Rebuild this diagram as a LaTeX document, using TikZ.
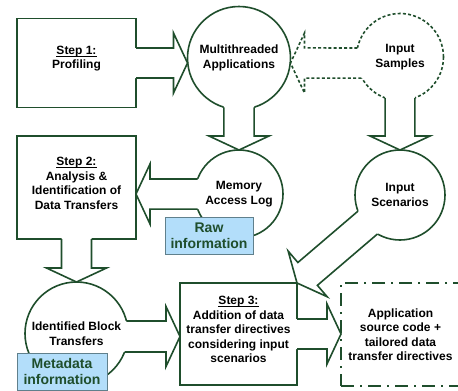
\documentclass[tikz,border=0pt]{standalone}
\usepackage{fontspec}
\setmainfont{Liberation Sans}
\usetikzlibrary{calc}

\definecolor{flowgreen}{RGB}{31,78,44}
\definecolor{infoblue}{RGB}{179,222,250}
\definecolor{infoedge}{RGB}{96,128,140}

% block arrow: rear corners #2 and #3, tip #4
\newcommand{\blockarrow}[4][]{%
  \coordinate (ba-m) at ($(#2)!0.5!(#3)$);
  \coordinate (ba-b) at ($(#4)!14pt!(ba-m)$);
  \coordinate (ba-x) at ($(ba-b)!1pt!90:(#4)$);
  \coordinate (ba-l) at ($(ba-b)!(#2)!(ba-x)$);
  \coordinate (ba-r) at ($(ba-b)!(#3)!(ba-x)$);
  \coordinate (ba-hl) at ($(ba-b)!30pt!(ba-l)$);
  \coordinate (ba-hr) at ($(ba-b)!30pt!(ba-r)$);
  \fill[white] ($(#2)!-3pt!(ba-l)$) -- (ba-l) -- (ba-hl) -- (#4) -- (ba-hr) -- (ba-r) -- ($(#3)!-3pt!(ba-r)$) -- cycle;
  \draw[blockline,#1] (#2) -- (ba-l) -- (ba-hl) -- (#4) -- (ba-hr) -- (ba-r) -- (#3);
}
\newcommand{\stepul}[1]{\underline{\smash{#1}}}

\begin{document}
\begin{tikzpicture}[x=1pt,y=-1pt,
  every node/.style={inner sep=0pt, outer sep=0pt, align=center, font=\fontsize{12}{14.5}\selectfont\bfseries},
  stepbox/.style={rectangle, draw=flowgreen, line width=1.6pt, fill=white},
  datacircle/.style={circle, draw=flowgreen, line width=1.6pt, fill=white},
  infobox/.style={rectangle, draw=infoedge, line width=0.8pt, fill=infoblue, text=flowgreen, font=\fontsize{14}{16.5}\selectfont\bfseries, minimum height=37pt},
  blockline/.style={draw=flowgreen, line width=1.6pt},
  ]
  \useasboundingbox (0,0) rectangle (458,391);

  % shapes
  \node[stepbox, minimum width=119pt, minimum height=89pt] (step1) at (76.5,63) {\stepul{Step 1:}\\Profiling};
  \node[datacircle, minimum size=103pt] (multi) at (239,58) {Multithreaded\\Applications};
  \node[datacircle, dash pattern=on 3pt off 2.2pt, minimum size=87pt] (samples) at (400,57) {Input\\Samples};
  \node[stepbox, minimum width=119pt, minimum height=103pt] (step2) at (76.5,187.5) {\stepul{Step 2:}\\Analysis \&\\Identification of\\Data Transfers};
  \node[datacircle, minimum size=88pt] (memory) at (239,194) {Memory\\Access Log};
  \node[datacircle, minimum size=90pt] (scen) at (400,195) {Input\\Scenarios};
  \node[datacircle, minimum size=103pt] (ident) at (76.5,333.5) {Identified Block\\Transfers};
  \node[stepbox, minimum width=117pt, minimum height=102pt] (step3) at (238.5,334) {\stepul{Step 3:}\\Addition of data\\transfer directives\\considering input\\scenarios};
  \node[stepbox, dash pattern=on 13pt off 6pt on 2pt off 6pt, minimum width=119pt, minimum height=103pt] (app) at (400.5,334.5) {Application\\source code +\\tailored data\\transfer directives};

  % arrow ends
  \coordinate (s1a) at ($(step1.east)+(0,-15)$);
  \coordinate (s1b) at ($(step1.east)+(0,15)$);
  \coordinate (s1t) at (step1.east -| multi.west);
  \coordinate (smt) at ($(multi.east)+(0,5)$);
  \coordinate (m2t) at (memory.west -| step2.east);
  \coordinate (s2a) at ($(step2.south)+(-15,0)$);
  \coordinate (s2b) at ($(step2.south)+(15,0)$);
  \coordinate (i3t) at ($(step3.west)+(0,2.5)$);
  \coordinate (s3a) at ($(step3.east)+(0,-15)$);
  \coordinate (s3b) at ($(step3.east)+(0,15)$);
  \coordinate (s3t) at (step3.east -| app.west);

  % block arrows
  \blockarrow{s1a}{s1b}{s1t}
  \blockarrow[dash pattern=on 3pt off 2.2pt]{samples.168}{samples.209}{smt}
  \blockarrow{multi.253}{multi.287}{memory.north}
  \blockarrow{memory.160}{memory.200}{m2t}
  \blockarrow{s2a}{s2b}{ident.north}
  \blockarrow{ident.14}{ident.339}{i3t}
  \blockarrow{s3a}{s3b}{s3t}
  \blockarrow{samples.250}{samples.290}{scen.north}
  \blockarrow{scen.201}{scen.240}{step3.north east}

  % labels
  \node[infobox, minimum width=88pt] (raw) at (209,235.5) {Raw\\information};
  \node[infobox, minimum width=90pt] (meta) at (62,371.5) {Metadata\\information};
\end{tikzpicture}
\end{document}
